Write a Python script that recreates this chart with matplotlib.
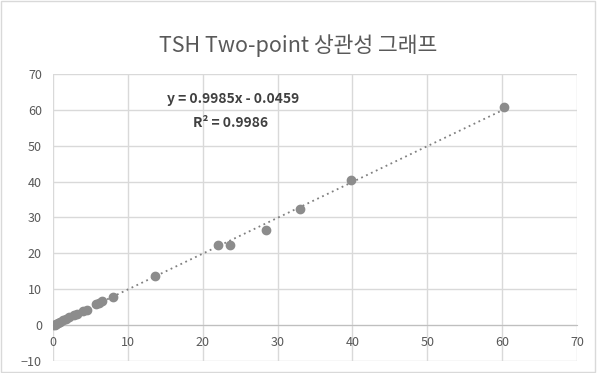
import matplotlib
matplotlib.use("Agg")
import matplotlib.pyplot as plt
import numpy as np

plt.rcParams['font.family'] = ['Noto Sans CJK KR', 'DejaVu Sans']

title = "TSH Two-point 상관성 그래프"
x_vals = [0.05, 0.2, 0.4, 0.7, 1.0, 1.3, 1.8, 2.2, 2.8, 3.2, 4.0, 4.5, 5.8, 6.2, 6.5,
          8.0, 13.6, 22.1, 23.6, 28.4, 33.0, 39.8, 60.2]
y_vals = [0.0, 0.1, 0.3, 0.6, 1.0, 1.3, 1.8, 2.3, 2.8, 3.1, 3.9, 4.3, 5.9, 6.3, 6.8,
          7.7, 13.7, 22.3, 22.2, 26.4, 32.3, 40.5, 60.8]
slope = 0.9985
intercept = -0.0459
r2 = 0.9986
x_ticks = [0, 10, 20, 30, 40, 50, 60, 70]
y_ticks = [-10, 0, 10, 20, 30, 40, 50, 60, 70]

fig = plt.figure(figsize=(5.97, 3.73), dpi=100)
fig.patch.set_facecolor('white')
fig.patches.append(matplotlib.patches.Rectangle((0.002, 0.003), 0.995, 0.994, transform=fig.transFigure,
                                               fill=False, edgecolor='#d9d9d9', linewidth=1))
ax = fig.add_axes([0.0888, 0.0322, 0.8777, 0.7694])

grid_c = '#d9d9d9'
ax.set_xlim(0, 70)
ax.set_ylim(-10, 70)
ax.set_xticks(x_ticks)
ax.set_yticks(y_ticks)
ax.grid(True, color=grid_c, linewidth=1)
ax.set_axisbelow(True)
for s in ['top', 'right', 'left']:
    ax.spines[s].set_visible(False)
ax.spines['bottom'].set_position(('data', 0))
ax.spines['bottom'].set_color('#bfbfbf')
ax.tick_params(length=0, labelsize=9, colors='#595959', pad=8)
ax.tick_params(axis='x', pad=8)

xs = np.array([min(x_vals), max(x_vals)])
ax.plot(xs, slope * xs + intercept, linestyle=(0, (1, 2)), color='#808080', linewidth=1.3, zorder=2)
ax.plot(x_vals, y_vals, 'o', color='#8c8c8c', markersize=6, zorder=3)

ax.text(0.343, 0.913, f"y = {slope}x - {-intercept}", transform=ax.transAxes, ha='center', va='center',
        fontsize=10, fontweight='bold', color='#404040')
ax.text(0.338, 0.829, f"R² = {r2}", transform=ax.transAxes, ha='center', va='center',
        fontsize=10, fontweight='bold', color='#404040')

fig.text(0.50, 0.879, title, ha='center', va='center', fontsize=15.5, color='#595959')

fig.savefig('out.png', dpi=100)
